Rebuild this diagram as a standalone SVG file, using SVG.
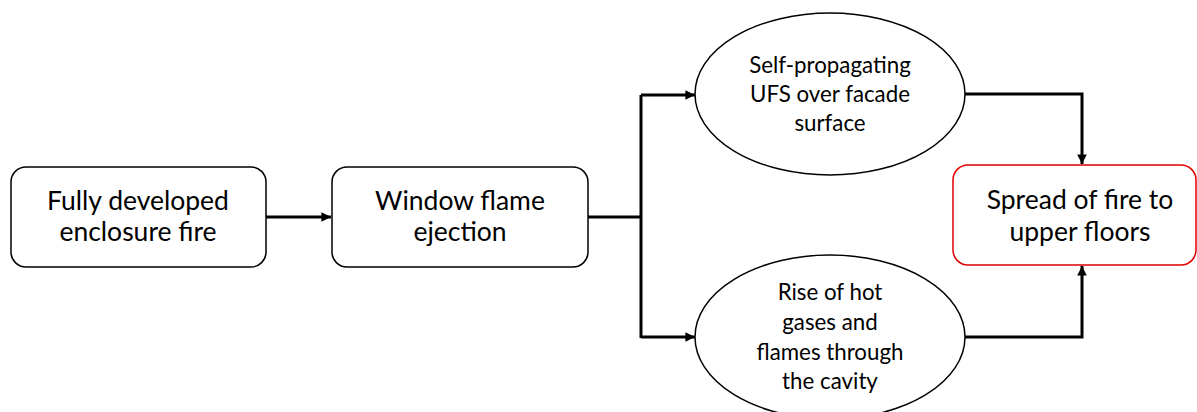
<svg xmlns="http://www.w3.org/2000/svg" width="1197" height="412" viewBox="0 0 1197 412">
<style>
.box{fill:#fff;stroke:#000;stroke-width:1.5}
.red{stroke:#e00000}
.t{font-family:Lato,"Liberation Sans",sans-serif;fill:#000;text-anchor:middle}
.big{font-size:26.5px}
.sm{font-size:22.3px}
.c{fill:none;stroke:#000;stroke-width:3}
</style>
<defs>
<marker id="ah" viewBox="0 0 10 10" refX="10" refY="5" markerWidth="3.2" markerHeight="3.2" orient="auto" markerUnits="strokeWidth">
<path d="M0,0 L10,5 L0,10 z" fill="#000"/>
</marker>
</defs>
<rect width="1197" height="412" fill="#fff"/>
<g id="connectors">
<path class="c" d="M266,217 L331,217" marker-end="url(#ah)"/>
<path class="c" d="M588,217 L641,217"/>
<path class="c" d="M641,95 L641,338"/>
<path class="c" d="M641,95 L695,95" marker-end="url(#ah)"/>
<path class="c" d="M641,337 L695,337" marker-end="url(#ah)"/>
<path class="c" d="M965,94 L1082,94 L1082,164" marker-end="url(#ah)"/>
<path class="c" d="M965,337 L1082,337 L1082,266" marker-end="url(#ah)"/>
</g>
<g id="n1">
<rect class="box" x="11" y="167" width="255" height="100" rx="15"/>
<text class="t big" x="138" y="210">Fully developed</text>
<text class="t big" x="138" y="241">enclosure fire</text>
</g>
<g id="n2">
<rect class="box" x="332" y="167" width="256" height="100" rx="15"/>
<text class="t big" x="460" y="210">Window flame</text>
<text class="t big" x="460" y="241">ejection</text>
</g>
<g id="n3">
<ellipse class="box" cx="830" cy="94" rx="135" ry="81"/>
<text class="t sm" x="830" y="73">Self-propagating</text>
<text class="t sm" x="830" y="102">UFS over facade</text>
<text class="t sm" x="830" y="131">surface</text>
</g>
<g id="n4">
<ellipse class="box" cx="830" cy="337" rx="135" ry="82"/>
<text class="t sm" x="830" y="300">Rise of hot</text>
<text class="t sm" x="830" y="330">gases and</text>
<text class="t sm" x="830" y="360">flames through</text>
<text class="t sm" x="830" y="389">the cavity</text>
</g>
<g id="n5">
<rect class="box red" x="953" y="165" width="243" height="100" rx="15"/>
<text class="t big" x="1080" y="209">Spread of fire to</text>
<text class="t big" x="1080" y="241">upper floors</text>
</g>
</svg>
